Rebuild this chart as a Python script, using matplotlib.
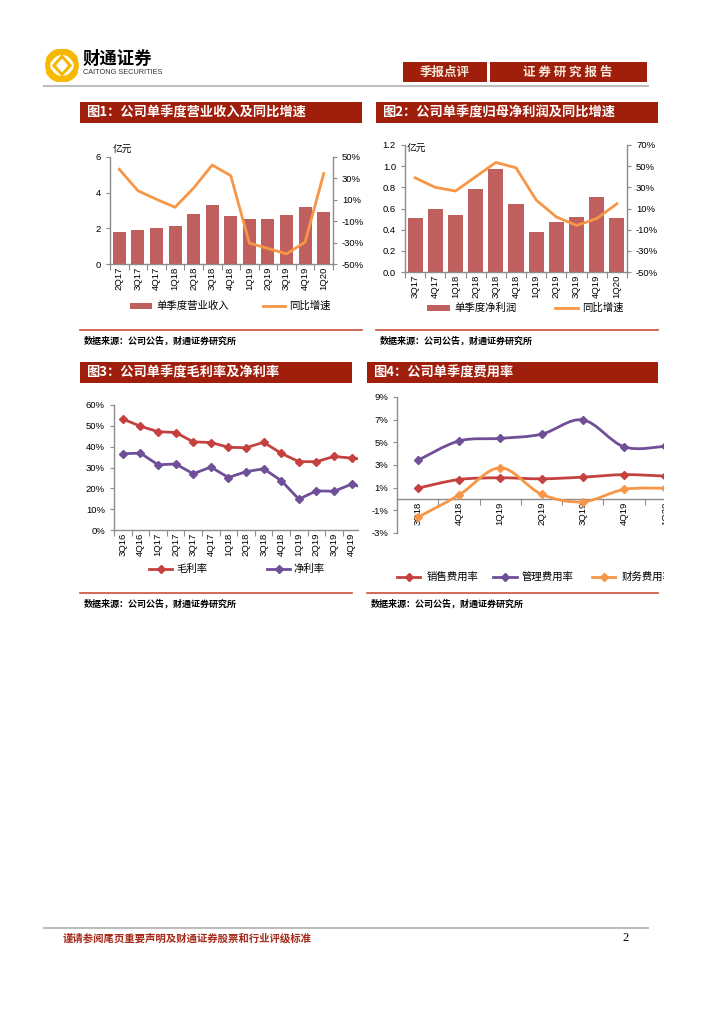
import numpy as np
import matplotlib
matplotlib.use("Agg")
import matplotlib.pyplot as plt
from matplotlib.patches import Rectangle, PathPatch, Wedge, Polygon
from matplotlib.path import Path
from matplotlib.lines import Line2D

plt.rcParams['font.family'] = ['Noto Sans CJK SC', 'DejaVu Sans']
plt.rcParams['axes.unicode_minus'] = False

# ── Data ──────────────────────────────────────────────────────────────────────
q1 = ['2Q17', '3Q17', '4Q17', '1Q18', '2Q18', '3Q18', '4Q18',
      '1Q19', '2Q19', '3Q19', '4Q19', '1Q20']
rev1 = [1.82, 1.88, 2.03, 2.13, 2.80, 3.31, 2.69, 2.54, 2.54, 2.74, 3.22, 2.89]
yoy1 = [38.5, 18.5, 10.5, 3.0, 21.0, 42.5, 32.5, -30.5, -35.5, -40.5, -29.5, 34.5]

q2 = ['3Q17', '4Q17', '1Q18', '2Q18', '3Q18', '4Q18',
      '1Q19', '2Q19', '3Q19', '4Q19', '1Q20']
np2 = [0.51, 0.60, 0.54, 0.78, 0.97, 0.64, 0.38, 0.47, 0.52, 0.71, 0.51]
yoy2 = [39.0, 30.0, 26.5, 40.0, 53.5, 48.5, 18.0, 2.0, -6.0, 0.5, 14.5]

q3 = ['3Q16', '4Q16', '1Q17', '2Q17', '3Q17', '4Q17', '1Q18', '2Q18',
      '3Q18', '4Q18', '1Q19', '2Q19', '3Q19', '4Q19', '1Q20']
gross3 = [53.3, 49.8, 47.2, 46.8, 42.3, 42.0, 39.7, 39.5, 42.1, 36.8,
          32.8, 32.8, 35.3, 34.5, 33.8]
net3 = [36.6, 36.9, 31.3, 31.7, 27.0, 30.2, 25.2, 28.0, 29.4, 23.7,
        14.8, 18.8, 18.6, 22.0, 19.5]

q4 = ['3Q18', '4Q18', '1Q19', '2Q19', '3Q19', '4Q19', '1Q20']
sales4 = [0.95, 1.72, 1.87, 1.78, 1.93, 2.15, 2.02]
admin4 = [3.40, 5.12, 5.35, 5.72, 6.98, 4.60, 4.65]
fin4 = [-1.62, 0.35, 2.75, 0.42, -0.25, 0.85, 0.95]

# ── Style ─────────────────────────────────────────────────────────────────────
W, H = 724, 1024
DARKRED = '#A01E0C'
BAR = '#C0605E'
ORANGE = '#F79646'
RED = '#C4413F'
PURPLE = '#6E4F98'
AXC = '#8C8C8C'
NUM = 'Liberation Sans'
TICK = 6.8

fig = plt.figure(figsize=(W / 100, H / 100), dpi=100)


def fx(x):
    return x / W


def fy(y):
    return 1 - y / H


def px_axes(x0, y0, x1, y1, **kw):
    return fig.add_axes([fx(x0), fy(y1), (x1 - x0) / W, (y1 - y0) / H], **kw)


def frect(x0, y0, x1, y1, **kw):
    fig.add_artist(Rectangle((fx(x0), fy(y1)), (x1 - x0) / W, (y1 - y0) / H,
                             transform=fig.transFigure, **kw))


def fline(x0, x1, y, **kw):
    fig.add_artist(Line2D([fx(x0), fx(x1)], [fy(y), fy(y)],
                          transform=fig.transFigure, **kw))


def ftext(x, y, s, **kw):
    fig.text(fx(x), fy(y), s, **kw)


def style_axis(ax, sides):
    for s in ['top', 'right', 'left', 'bottom']:
        ax.spines[s].set_visible(s in sides)
        ax.spines[s].set_color(AXC)
        ax.spines[s].set_linewidth(1.0)
    ax.tick_params(colors=AXC, labelcolor='black', labelsize=TICK, width=0.8)
    ax.patch.set_alpha(0)


def cat_axis(ax, labels, lim):
    n = len(labels)
    ax.set_xticks(np.arange(n))
    ax.set_xticklabels(labels, rotation=90, fontsize=TICK, family=NUM,
                       va='top', ha='center')
    ax.set_xticks(np.arange(n + 1) - 0.5, minor=True)
    ax.tick_params(axis='x', which='major', length=0, pad=2)
    ax.tick_params(axis='x', which='minor', length=4, color=AXC, width=0.8)
    ax.set_xlim(*lim)


def num_labels(ax):
    for t in ax.get_yticklabels():
        t.set_family(NUM)


def smooth_path(xs, ys):
    pts = np.column_stack([xs, ys]).astype(float)
    verts = [pts[0]]
    codes = [Path.MOVETO]
    n = len(pts)
    for i in range(n - 1):
        p0 = pts[i - 1] if i > 0 else pts[i]
        p1, p2 = pts[i], pts[i + 1]
        p3 = pts[i + 2] if i + 2 < n else pts[i + 1]
        verts += [p1 + (p2 - p0) / 6, p2 - (p3 - p1) / 6, p2]
        codes += [Path.CURVE4] * 3
    return Path(verts, codes)


def title_bar(x0, x1, y0, y1, text):
    frect(x0, y0, x1, y1, facecolor=DARKRED, edgecolor='none')
    ftext(x0 + 6, (y0 + y1) / 2, text, color='white', fontsize=9.5,
          fontweight='bold', va='center', ha='left')


def source_block(x0, x1, y):
    fline(x0, x1, y, color='#C8503A', lw=1.2)
    ftext(x0 + 4, y + 11, '数据来源：公司公告，财通证券研究所', fontsize=6.5,
          fontweight='bold', va='center', ha='left')


def legend_line(x0, x1, y, color, marker=None):
    fig.add_artist(Line2D([fx(x0), fx(x1)], [fy(y), fy(y)], color=color, lw=2,
                          transform=fig.transFigure))
    if marker:
        fig.add_artist(Line2D([fx((x0 + x1) / 2)], [fy(y)], color=color,
                              marker=marker, ms=4, transform=fig.transFigure))


# ── Header ────────────────────────────────────────────────────────────────────
axl = px_axes(45, 49, 79, 82)
axl.set_xlim(-1, 1)
axl.set_ylim(-1, 1)
axl.axis('off')
YEL = '#F6B800'
axl.add_patch(Wedge((0, 0), 1.0, 25, 155, width=0.32, color=YEL))
axl.add_patch(Wedge((0, 0), 1.0, 205, 335, width=0.32, color=YEL))
axl.add_patch(Wedge((0, 0), 0.95, 150, 210, width=0.22, color=YEL))
axl.add_patch(Wedge((0, 0), 0.95, -30, 30, width=0.22, color=YEL))
axl.add_patch(Polygon([(0, 0.62), (0.55, 0), (0, -0.62), (-0.55, 0)], color=YEL))
axl.add_patch(Polygon([(0, 0.36), (0.3, 0), (0, -0.36), (-0.3, 0)], color='white'))

ftext(83, 59, '财通证券', fontsize=12.5, fontweight='bold', va='center', ha='left')
ftext(83, 73, 'CAITONG SECURITIES', fontsize=5.3, family=NUM, va='center',
      ha='left', color='#333333')

frect(403, 62, 487, 82, facecolor=DARKRED, edgecolor='none')
frect(490, 62, 647, 82, facecolor=DARKRED, edgecolor='none')
ftext(445, 72, '季报点评', fontsize=9, color='#F6E8DA', va='center', ha='center',
      fontweight='bold')
ftext(568, 72, '证 券 研 究 报 告', fontsize=9, color='#F6E8DA', va='center',
      ha='center', fontweight='bold')
fline(44, 648, 86, color='#BDBDBD', lw=1.5)

# ── Figure 1 ──────────────────────────────────────────────────────────────────
title_bar(80, 362, 102, 123, '图1：公司单季度营业收入及同比增速')
ax1 = px_axes(110, 157, 333, 264)
x1 = np.arange(len(q1))
ax1.bar(x1, rev1, width=0.7, color=BAR, zorder=2)
ax1.set_ylim(0, 6)
ax1.set_yticks([0, 2, 4, 6])
style_axis(ax1, ['left', 'bottom'])
cat_axis(ax1, q1, (-0.5, len(q1) - 0.5))
num_labels(ax1)
ax1.tick_params(axis='y', length=3)
ax1r = ax1.twinx()
ax1r.plot(x1, yoy1, color=ORANGE, lw=2, zorder=3)
ax1r.set_ylim(-50, 50)
ax1r.set_yticks(range(-50, 51, 20))
ax1r.set_yticklabels([f'{v}%' for v in range(-50, 51, 20)])
style_axis(ax1r, ['right'])
ax1r.tick_params(axis='y', length=3)
num_labels(ax1r)
ftext(113, 150, '亿元', fontsize=7, va='center', ha='left')
frect(130, 303, 152, 309, facecolor=BAR, edgecolor='none')
ftext(156, 306, '单季度营业收入', fontsize=7.5, va='center', ha='left')
legend_line(263, 285, 306, ORANGE)
ftext(289, 306, '同比增速', fontsize=7.5, va='center', ha='left')
source_block(80, 362, 330)

# ── Figure 2 ──────────────────────────────────────────────────────────────────
title_bar(376, 658, 102, 123, '图2：公司单季度归母净利润及同比增速')
ax2 = px_axes(405, 145, 627, 272)
x2 = np.arange(len(q2))
ax2.bar(x2, np2, width=0.75, color=BAR, zorder=2)
ax2.set_ylim(0, 1.2)
ax2.set_yticks(np.arange(0, 1.21, 0.2))
ax2.set_yticklabels([f'{v:.1f}' for v in np.arange(0, 1.21, 0.2)])
style_axis(ax2, ['left', 'bottom'])
cat_axis(ax2, q2, (-0.5, len(q2) - 0.5))
num_labels(ax2)
ax2.tick_params(axis='y', length=3)
ax2r = ax2.twinx()
ax2r.plot(x2, yoy2, color=ORANGE, lw=2, zorder=3)
ax2r.set_ylim(-50, 70)
ax2r.set_yticks(range(-50, 71, 20))
ax2r.set_yticklabels([f'{v}%' for v in range(-50, 71, 20)])
style_axis(ax2r, ['right'])
ax2r.tick_params(axis='y', length=3)
num_labels(ax2r)
ftext(407, 149, '亿元', fontsize=7, va='center', ha='left')
frect(427, 305, 450, 311, facecolor=BAR, edgecolor='none')
ftext(454, 308, '单季度净利润', fontsize=7.5, va='center', ha='left')
legend_line(555, 578, 308, ORANGE)
ftext(582, 308, '同比增速', fontsize=7.5, va='center', ha='left')
source_block(376, 658, 330)

# ── Figure 3 ──────────────────────────────────────────────────────────────────
title_bar(80, 352, 362, 383, '图3：公司单季度毛利率及净利率')
ax3 = px_axes(114, 405, 358, 530)
x3 = np.arange(len(q3))
ax3.plot(x3, gross3, color=RED, lw=2, marker='D', ms=4.5)
ax3.plot(x3, net3, color=PURPLE, lw=2, marker='D', ms=4.5)
ax3.set_ylim(0, 60)
ax3.set_yticks(range(0, 61, 10))
ax3.set_yticklabels([f'{v}%' for v in range(0, 61, 10)])
style_axis(ax3, ['left', 'bottom'])
cat_axis(ax3, q3, (-0.5, 13.36))
num_labels(ax3)
ax3.tick_params(axis='y', length=3)
legend_line(149, 172, 569, RED, 'D')
ftext(176, 569, '毛利率', fontsize=7.5, va='center', ha='left')
legend_line(267, 290, 569, PURPLE, 'D')
ftext(294, 569, '净利率', fontsize=7.5, va='center', ha='left')
source_block(80, 352, 593)

# ── Figure 4 ──────────────────────────────────────────────────────────────────
title_bar(367, 658, 362, 383, '图4：公司单季度费用率')
ax4 = px_axes(397, 397, 397 + 7 * 41.3, 533)
x4 = np.arange(len(q4))
for vals, c in [(sales4, RED), (admin4, PURPLE), (fin4, ORANGE)]:
    ax4.add_patch(PathPatch(smooth_path(x4, vals), fill=False, edgecolor=c,
                            lw=2, zorder=3))
    ax4.plot(x4, vals, ls='none', marker='D', ms=4.5, color=c, zorder=4)
ax4.set_ylim(-3, 9)
ax4.set_yticks(range(-3, 10, 2))
ax4.set_yticklabels([f'{v}%' for v in range(-3, 10, 2)])
style_axis(ax4, ['left', 'bottom'])
ax4.spines['bottom'].set_position(('data', 0))
cat_axis(ax4, q4, (-0.5, len(q4) - 0.5))
num_labels(ax4)
ax4.tick_params(axis='y', length=3)
legend_line(397, 420, 577, RED, 'D')
ftext(427, 577, '销售费用率', fontsize=7.5, va='center', ha='left')
legend_line(493, 517, 577, PURPLE, 'D')
ftext(522, 577, '管理费用率', fontsize=7.5, va='center', ha='left')
legend_line(592, 615, 577, ORANGE, 'D')
ftext(622, 577, '财务费用率', fontsize=7.5, va='center', ha='left')
# the source chart is cut off at its right edge
frect(664, 386, 724, 590, facecolor='white', edgecolor='none', zorder=20)
source_block(367, 658, 593)

# ── Footer ────────────────────────────────────────────────────────────────────
fline(44, 648, 928, color='#BDBDBD', lw=1.5)
ftext(63, 938, '谨请参阅尾页重要声明及财通证券股票和行业评级标准', fontsize=7.5,
      color='#A52A1A', fontweight='bold', va='center', ha='left')
ftext(626, 938, '2', fontsize=9, family='Liberation Serif', va='center', ha='center')

fig.savefig('out.png', dpi=100)
